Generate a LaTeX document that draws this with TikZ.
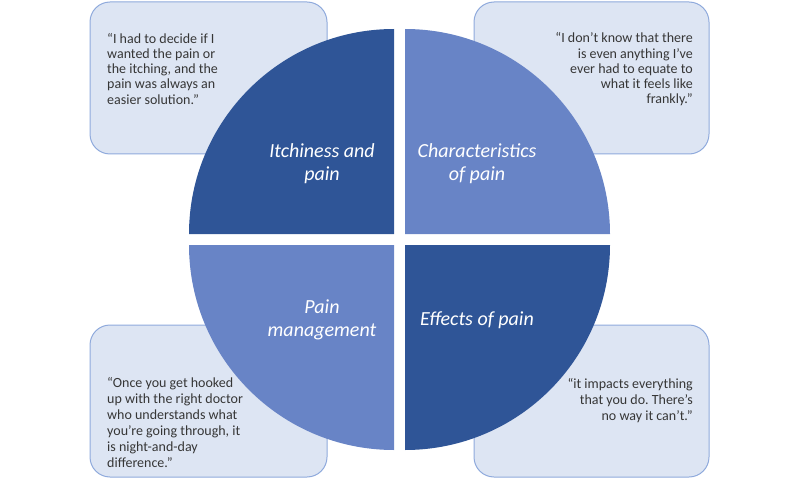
\documentclass[tikz,border=0pt]{standalone}
\usepackage{fontspec}
\setmainfont{Carlito}
\frenchspacing
\definecolor{darkq}{HTML}{2F5597}
\definecolor{lightq}{HTML}{6884C6}
\definecolor{boxfill}{HTML}{DDE5F3}
\definecolor{boxline}{HTML}{8FAADC}
\definecolor{quotetext}{HTML}{363636}
\tikzset{
  quotebox/.style={draw=boxline, line width=1pt, fill=boxfill, rounded corners=20pt},
  quotetxt/.style={inner sep=0pt, text=quotetext},
  labeltxt/.style={inner sep=0pt, text=white, align=center, font=\fontsize{20}{23}\selectfont\itshape},
}
\begin{document}
\begin{tikzpicture}[x=1pt,y=1pt]
\useasboundingbox (0,0) rectangle (800,480);
% quote boxes
\draw[quotebox] (90,326) rectangle (327,478);
\draw[quotebox] (474,326) rectangle (709,478);
\draw[quotebox] (90,3) rectangle (327,155);
\draw[quotebox] (474,3) rectangle (709,155);
% quadrants
\fill[darkq] (394,246) -- (189,246) arc[start angle=180,end angle=90,radius=205] -- cycle;
\fill[lightq] (405,246) -- (405,451) arc[start angle=90,end angle=0,radius=205] -- cycle;
\fill[lightq] (394,235) -- (189,235) arc[start angle=180,end angle=270,radius=205] -- cycle;
\fill[darkq] (405,235) -- (610,235) arc[start angle=0,end angle=-90,radius=205] -- cycle;
% labels
\node[labeltxt, anchor=north] (l1) at (322,337) {Itchiness and\\pain};
\node[labeltxt, anchor=north] (l2) at (477,337) {Characteristics\\of pain};
\node[labeltxt, anchor=north] (l3) at (322,180) {Pain\\management};
\node[labeltxt, anchor=north] (l4) at (477,169) {Effects of pain};
% quotes
\node[quotetxt, anchor=north west, align=left, font=\fontsize{14}{15.2}\selectfont] (q1) at (107,447)
  {“I had to decide if I\\wanted the pain or\\the itching, and the\\pain was always an\\easier solution.”};
\node[quotetxt, anchor=north east, align=right, font=\fontsize{14}{15.3}\selectfont] (q2) at (693,447.5)
  {“I don't know that there\\is even anything I’ve\\ever had to equate to\\what it feels like\\frankly.”};
\node[quotetxt, anchor=north west, align=left, font=\fontsize{14}{16}\selectfont] (q3) at (107,103)
  {“Once you get hooked\\up with the right doctor\\who understands what\\you’re going through, it\\is night-and-day\\difference.”};
\node[quotetxt, anchor=north east, align=right, font=\fontsize{14}{16}\selectfont] (q4) at (693,102)
  {“it impacts everything\\that you do. There's\\no way it can't.”};
\end{tikzpicture}
\end{document}
